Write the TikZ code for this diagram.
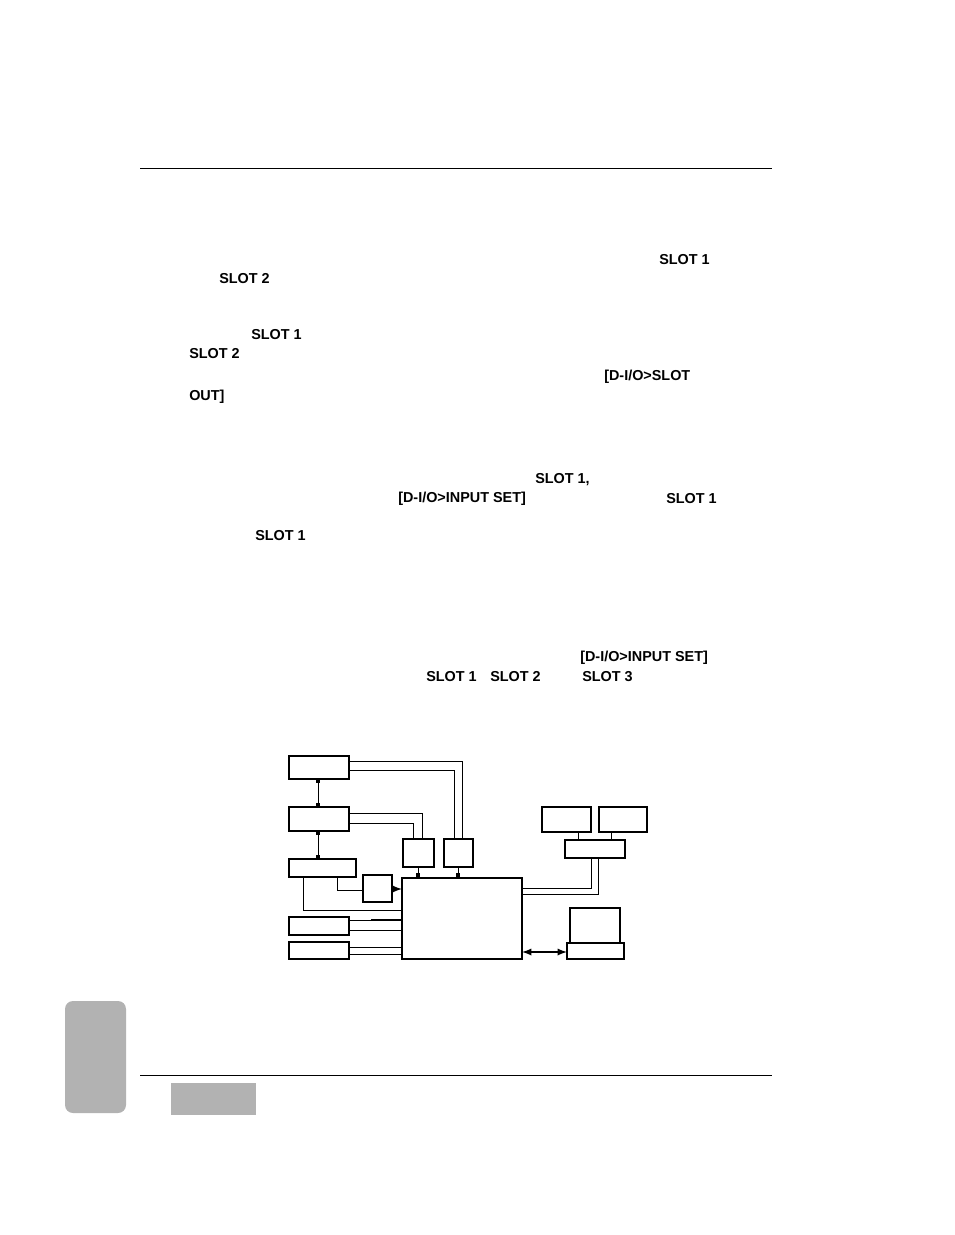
\documentclass[tikz,border=0pt]{standalone}
\usepackage{fontspec}
\setmainfont{Liberation Sans}
\begin{document}
\begin{tikzpicture}[x=0.75pt,y=-0.75pt,
 bx/.style={draw,line width=0.8pt},
 ln/.style={line width=0.75pt},
 lbl/.style={anchor=west,inner sep=0pt,font=\bfseries\fontsize{10.8}{12}\selectfont},
 mk/.style={fill=black,minimum size=3.5pt,inner sep=0pt}]
\useasboundingbox (0,0) rectangle (954,1235);
\draw[line width=0.6pt] (140,168) coordinate(t1) -- (772,168) coordinate(t2);
\draw[line width=0.6pt] (140,1075) coordinate(b1) -- (772,1075) coordinate(b2);
\fill[black!30,rounded corners=6pt] (65,1001) rectangle (126,1113);
\fill[black!30] (171,1083) rectangle (256,1115);
\foreach \t/\x/\y in {SLOT 1/659/260, SLOT 2/219/279, SLOT 1/251/335, SLOT 2/189/354,
 {[D-I/O>SLOT}/604/377, {OUT]}/189/397, {SLOT 1,}/535/480, {[D-I/O>INPUT SET]}/398/499,
 SLOT 1/666/499, SLOT 1/255/536, {[D-I/O>INPUT SET]}/580/658, SLOT 1/426/677, SLOT 2/490/677, SLOT 3/582/677}
 \node[lbl] at (\x,\y) {\t};
% boxes
\draw[bx] (289,756) rectangle (349,779) node[midway](A){};
\draw[bx] (289,807) rectangle (349,831) node[midway](B){};
\draw[bx] (289,859) rectangle (356,877) node[midway](C){};
\draw[bx] (363,875) rectangle (392,902) node[midway](D){};
\draw[bx] (289,917) rectangle (349,935) node[midway](E){};
\draw[bx] (289,942) rectangle (349,959) node[midway](F){};
\draw[bx] (402,878) rectangle (522,959) node[midway](M){};
\draw[bx] (403,839) rectangle (434,867) node[midway](G){};
\draw[bx] (444,839) rectangle (473,867) node[midway](H){};
\draw[bx] (542,807) rectangle (591,832) node[midway](R1){};
\draw[bx] (599,807) rectangle (647,832) node[midway](R2){};
\draw[bx] (565,840) rectangle (625,858) node[midway](R3){};
\draw[bx] (570,908) rectangle (620,943) node[midway](S){};
\draw[bx] (567,943) rectangle (624,959) node[midway](K){};
% connectors
\draw[ln] (349,761) -| (462,839);
\draw[ln] (349,770) -| (454,839);
\draw[ln] (349,813) -| (422,839);
\draw[ln] (349,823) -| (413,839);
\draw[ln] (318,779) -- (318,807);
\node[mk] at (318,781){}; \node[mk] at (318,805){};
\draw[ln] (318,831) -- (318,859);
\node[mk] at (318,833){}; \node[mk] at (318,857){};
\draw[ln] (303,877) |- (402,910);
\draw[ln] (337,877) |- (363,890);
\draw[line width=1.4pt,-latex] (392,889) -- (402,889);
\draw[line width=1.2pt] (371,920) -- (402,920);
\draw[ln] (349,920) -- (402,920);
\draw[ln] (349,930) -- (402,930);
\draw[ln] (349,947) -- (402,947);
\draw[ln] (349,954) -- (402,954);
\draw[ln] (418,867) -- (418,878); \node[mk] at (418,875){};
\draw[ln] (458,867) -- (458,878); \node[mk] at (458,875){};
\draw[ln] (522,888) -| (591,858);
\draw[ln] (522,894) -| (598,858);
\draw[ln] (578,832) -- (578,840);
\draw[ln] (611,832) -- (611,840);
\draw[line width=1.4pt,latex-latex] (522,952) -- (567,952);
\end{tikzpicture}
\end{document}
